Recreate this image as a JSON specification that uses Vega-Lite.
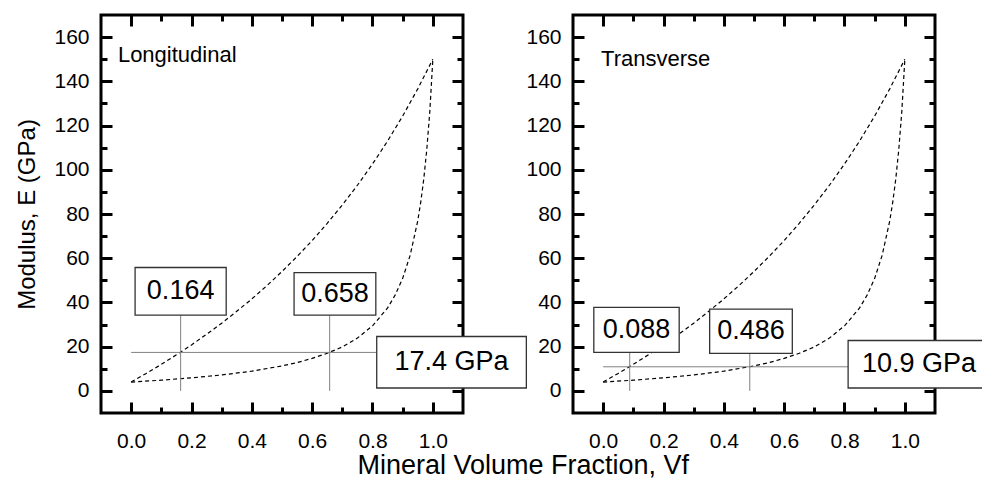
{
  "$schema": "https://vega.github.io/schema/vega-lite/v6.json",
  "padding": {"left": 14, "top": 12, "right": 0, "bottom": 0},
  "bounds": "flush",
  "spacing": 110,
  "title": {"text": "Mineral Volume Fraction, Vf", "orient": "bottom", "anchor": "middle", "fontSize": 27, "font": "Liberation Sans", "fontWeight": "normal", "color": "black", "offset": 0, "dx": 20},
  "datasets": {
    "curves": [
      {"curve": "upper", "v": 0, "E": 4},
      {"curve": "upper", "v": 0.05, "E": 7.9},
      {"curve": "upper", "v": 0.1, "E": 12.0},
      {"curve": "upper", "v": 0.15, "E": 16.3},
      {"curve": "upper", "v": 0.2, "E": 20.8},
      {"curve": "upper", "v": 0.25, "E": 25.6},
      {"curve": "upper", "v": 0.3, "E": 30.6},
      {"curve": "upper", "v": 0.35, "E": 36.0},
      {"curve": "upper", "v": 0.4, "E": 41.6},
      {"curve": "upper", "v": 0.45, "E": 47.6},
      {"curve": "upper", "v": 0.5, "E": 54.0},
      {"curve": "upper", "v": 0.55, "E": 60.8},
      {"curve": "upper", "v": 0.6, "E": 68.0},
      {"curve": "upper", "v": 0.65, "E": 75.8},
      {"curve": "upper", "v": 0.7, "E": 84.1},
      {"curve": "upper", "v": 0.75, "E": 93.0},
      {"curve": "upper", "v": 0.8, "E": 102.6},
      {"curve": "upper", "v": 0.85, "E": 113.0},
      {"curve": "upper", "v": 0.9, "E": 124.3},
      {"curve": "upper", "v": 0.95, "E": 136.6},
      {"curve": "upper", "v": 1.0, "E": 150},
      {"curve": "lower", "v": 0, "E": 4},
      {"curve": "lower", "v": 0.1, "E": 4.85},
      {"curve": "lower", "v": 0.2, "E": 5.9},
      {"curve": "lower", "v": 0.3, "E": 7.2},
      {"curve": "lower", "v": 0.4, "E": 8.9},
      {"curve": "lower", "v": 0.5, "E": 11.3},
      {"curve": "lower", "v": 0.55, "E": 12.8},
      {"curve": "lower", "v": 0.6, "E": 14.7},
      {"curve": "lower", "v": 0.65, "E": 17.0},
      {"curve": "lower", "v": 0.7, "E": 19.9},
      {"curve": "lower", "v": 0.75, "E": 23.9},
      {"curve": "lower", "v": 0.8, "E": 29.4},
      {"curve": "lower", "v": 0.85, "E": 37.5},
      {"curve": "lower", "v": 0.875, "E": 43.3},
      {"curve": "lower", "v": 0.9, "E": 50.9},
      {"curve": "lower", "v": 0.925, "E": 61.4},
      {"curve": "lower", "v": 0.95, "E": 76.9},
      {"curve": "lower", "v": 0.96, "E": 85.4},
      {"curve": "lower", "v": 0.97, "E": 95.9},
      {"curve": "lower", "v": 0.98, "E": 109.2},
      {"curve": "lower", "v": 0.99, "E": 126.4},
      {"curve": "lower", "v": 1.0, "E": 150}
    ],
    "boxes": [
      {"panel": "L", "label": "0.164", "x1": 0.013, "x2": 0.315, "y1": 34.3, "y2": 55.8, "tx": 0.164, "ty": 45},
      {"panel": "L", "label": "0.658", "x1": 0.540, "x2": 0.811, "y1": 34.3, "y2": 53.5, "tx": 0.6755, "ty": 43.9},
      {"panel": "L", "label": "17.4 GPa", "x1": 0.814, "x2": 1.310, "y1": 1.3, "y2": 24.6, "tx": 1.062, "ty": 12.95},
      {"panel": "T", "label": "0.088", "x1": -0.031, "x2": 0.252, "y1": 17.4, "y2": 37.8, "tx": 0.1105, "ty": 27.6},
      {"panel": "T", "label": "0.486", "x1": 0.353, "x2": 0.627, "y1": 17.0, "y2": 37.0, "tx": 0.49, "ty": 27},
      {"panel": "T", "label": "10.9 GPa", "x1": 0.812, "x2": 1.282, "y1": 1.3, "y2": 22.8, "tx": 1.047, "ty": 12.05}
    ],
    "lines": [
      {"panel": "L", "x1": 0.164, "x2": 0.164, "y1": 0, "y2": 34.3},
      {"panel": "L", "x1": 0.658, "x2": 0.658, "y1": 0, "y2": 34.3},
      {"panel": "L", "x1": 0, "x2": 0.814, "y1": 17.4, "y2": 17.4},
      {"panel": "T", "x1": 0.088, "x2": 0.088, "y1": 0, "y2": 17.4},
      {"panel": "T", "x1": 0.486, "x2": 0.486, "y1": 0, "y2": 17.0},
      {"panel": "T", "x1": 0, "x2": 0.812, "y1": 10.9, "y2": 10.9}
    ],
    "panels": [
      {"panel": "L", "name": "Longitudinal", "x": -0.044, "y": 148.6},
      {"panel": "T", "name": "Transverse", "x": -0.007, "y": 147}
    ]
  },
  "hconcat": [
    {
      "width": 362,
      "height": 398,
      "resolve": {"axis": {"x": "independent", "y": "independent"}},
      "layer": [
        {
          "data": {"name": "curves"},
          "mark": {"type": "line", "color": "black", "strokeWidth": 1.2, "strokeDash": [4, 3]},
          "encoding": {
            "x": {"field": "v", "type": "quantitative", "scale": {"domain": [-0.1, 1.1], "nice": false, "zero": false},
                  "axis": {"orient": "bottom", "values": [0, 0.2, 0.4, 0.6, 0.8, 1.0], "format": ".1f", "tickSize": -11, "labelPadding": 28, "title": null}},
            "y": {"field": "E", "type": "quantitative", "scale": {"domain": [-10, 170], "nice": false, "zero": false},
                  "axis": {"orient": "left", "values": [0, 20, 40, 60, 80, 100, 120, 140, 160], "tickSize": -11, "labelPadding": 23, "title": "Modulus, E (GPa)", "titleFontSize": 24, "titlePadding": 14}},
            "detail": {"field": "curve"}
          }
        },
        {
          "data": {"name": "lines"},
          "transform": [{"filter": "datum.panel === 'L'"}],
          "mark": {"type": "rule", "color": "#808080", "strokeWidth": 1},
          "encoding": {
            "x": {"field": "x1", "type": "quantitative", "axis": {"orient": "top", "values": [0, 0.2, 0.4, 0.6, 0.8, 1.0], "tickSize": -11, "labels": false, "title": null}},
            "x2": {"field": "x2"},
            "y": {"field": "y1", "type": "quantitative", "axis": {"orient": "right", "values": [0, 20, 40, 60, 80, 100, 120, 140, 160], "tickSize": -11, "labels": false, "title": null}},
            "y2": {"field": "y2"}
          }
        },
        {
          "data": {"name": "boxes"},
          "transform": [{"filter": "datum.panel === 'L'"}],
          "mark": {"type": "rect", "fill": "white", "stroke": "#333333", "strokeWidth": 1.3},
          "encoding": {
            "x": {"field": "x1", "type": "quantitative", "axis": {"orient": "bottom", "values": [0.1, 0.3, 0.5, 0.7, 0.9], "tickSize": -6, "labels": false, "title": null}},
            "x2": {"field": "x2"},
            "y": {"field": "y1", "type": "quantitative", "axis": {"orient": "left", "values": [10, 30, 50, 70, 90, 110, 130, 150], "tickSize": -6, "labels": false, "title": null}},
            "y2": {"field": "y2"}
          }
        },
        {
          "data": {"name": "boxes"},
          "transform": [{"filter": "datum.panel === 'L'"}],
          "mark": {"type": "text", "fontSize": 27, "font": "Liberation Sans", "color": "black", "align": "center", "baseline": "middle"},
          "encoding": {
            "x": {"field": "tx", "type": "quantitative", "axis": {"orient": "top", "values": [0.1, 0.3, 0.5, 0.7, 0.9], "tickSize": -6, "labels": false, "title": null}},
            "y": {"field": "ty", "type": "quantitative", "axis": {"orient": "right", "values": [10, 30, 50, 70, 90, 110, 130, 150], "tickSize": -6, "labels": false, "title": null}},
            "text": {"field": "label"}
          }
        },
        {
          "data": {"name": "panels"},
          "transform": [{"filter": "datum.panel === 'L'"}],
          "mark": {"type": "text", "fontSize": 22, "font": "Liberation Sans", "color": "black", "align": "left", "baseline": "alphabetic"},
          "encoding": {
            "x": {"field": "x", "type": "quantitative", "axis": null},
            "y": {"field": "y", "type": "quantitative", "axis": null},
            "text": {"field": "name"}
          }
        }
      ]
    },
    {
      "width": 362,
      "height": 398,
      "resolve": {"axis": {"x": "independent", "y": "independent"}},
      "layer": [
        {
          "data": {"name": "curves"},
          "mark": {"type": "line", "color": "black", "strokeWidth": 1.2, "strokeDash": [4, 3]},
          "encoding": {
            "x": {"field": "v", "type": "quantitative", "scale": {"domain": [-0.1, 1.1], "nice": false, "zero": false},
                  "axis": {"orient": "bottom", "values": [0, 0.2, 0.4, 0.6, 0.8, 1.0], "format": ".1f", "tickSize": -11, "labelPadding": 28, "title": null}},
            "y": {"field": "E", "type": "quantitative", "scale": {"domain": [-10, 170], "nice": false, "zero": false},
                  "axis": {"orient": "left", "values": [0, 20, 40, 60, 80, 100, 120, 140, 160], "tickSize": -11, "labelPadding": 23, "title": null}},
            "detail": {"field": "curve"}
          }
        },
        {
          "data": {"name": "lines"},
          "transform": [{"filter": "datum.panel === 'T'"}],
          "mark": {"type": "rule", "color": "#808080", "strokeWidth": 1},
          "encoding": {
            "x": {"field": "x1", "type": "quantitative", "axis": {"orient": "top", "values": [0, 0.2, 0.4, 0.6, 0.8, 1.0], "tickSize": -11, "labels": false, "title": null}},
            "x2": {"field": "x2"},
            "y": {"field": "y1", "type": "quantitative", "axis": {"orient": "right", "values": [0, 20, 40, 60, 80, 100, 120, 140, 160], "tickSize": -11, "labels": false, "title": null}},
            "y2": {"field": "y2"}
          }
        },
        {
          "data": {"name": "boxes"},
          "transform": [{"filter": "datum.panel === 'T'"}],
          "mark": {"type": "rect", "fill": "white", "stroke": "#333333", "strokeWidth": 1.3},
          "encoding": {
            "x": {"field": "x1", "type": "quantitative", "axis": {"orient": "bottom", "values": [0.1, 0.3, 0.5, 0.7, 0.9], "tickSize": -6, "labels": false, "title": null}},
            "x2": {"field": "x2"},
            "y": {"field": "y1", "type": "quantitative", "axis": {"orient": "left", "values": [10, 30, 50, 70, 90, 110, 130, 150], "tickSize": -6, "labels": false, "title": null}},
            "y2": {"field": "y2"}
          }
        },
        {
          "data": {"name": "boxes"},
          "transform": [{"filter": "datum.panel === 'T'"}],
          "mark": {"type": "text", "fontSize": 27, "font": "Liberation Sans", "color": "black", "align": "center", "baseline": "middle"},
          "encoding": {
            "x": {"field": "tx", "type": "quantitative", "axis": {"orient": "top", "values": [0.1, 0.3, 0.5, 0.7, 0.9], "tickSize": -6, "labels": false, "title": null}},
            "y": {"field": "ty", "type": "quantitative", "axis": {"orient": "right", "values": [10, 30, 50, 70, 90, 110, 130, 150], "tickSize": -6, "labels": false, "title": null}},
            "text": {"field": "label"}
          }
        },
        {
          "data": {"name": "panels"},
          "transform": [{"filter": "datum.panel === 'T'"}],
          "mark": {"type": "text", "fontSize": 22, "font": "Liberation Sans", "color": "black", "align": "left", "baseline": "alphabetic"},
          "encoding": {
            "x": {"field": "x", "type": "quantitative", "axis": null},
            "y": {"field": "y", "type": "quantitative", "axis": null},
            "text": {"field": "name"}
          }
        }
      ]
    }
  ],
  "config": {
    "font": "Liberation Sans",
    "view": {"stroke": "black", "strokeWidth": 3},
    "axis": {
      "grid": false,
      "domain": false,
      "tickColor": "black",
      "tickWidth": 3,
      "labelColor": "black",
      "labelFont": "Liberation Sans",
      "labelFontSize": 21,
      "titleFont": "Liberation Sans",
      "titleFontSize": 28,
      "titleFontWeight": "normal",
      "titleColor": "black",
      "labelFlush": false,
      "labelOverlap": false
    }
  }
}
